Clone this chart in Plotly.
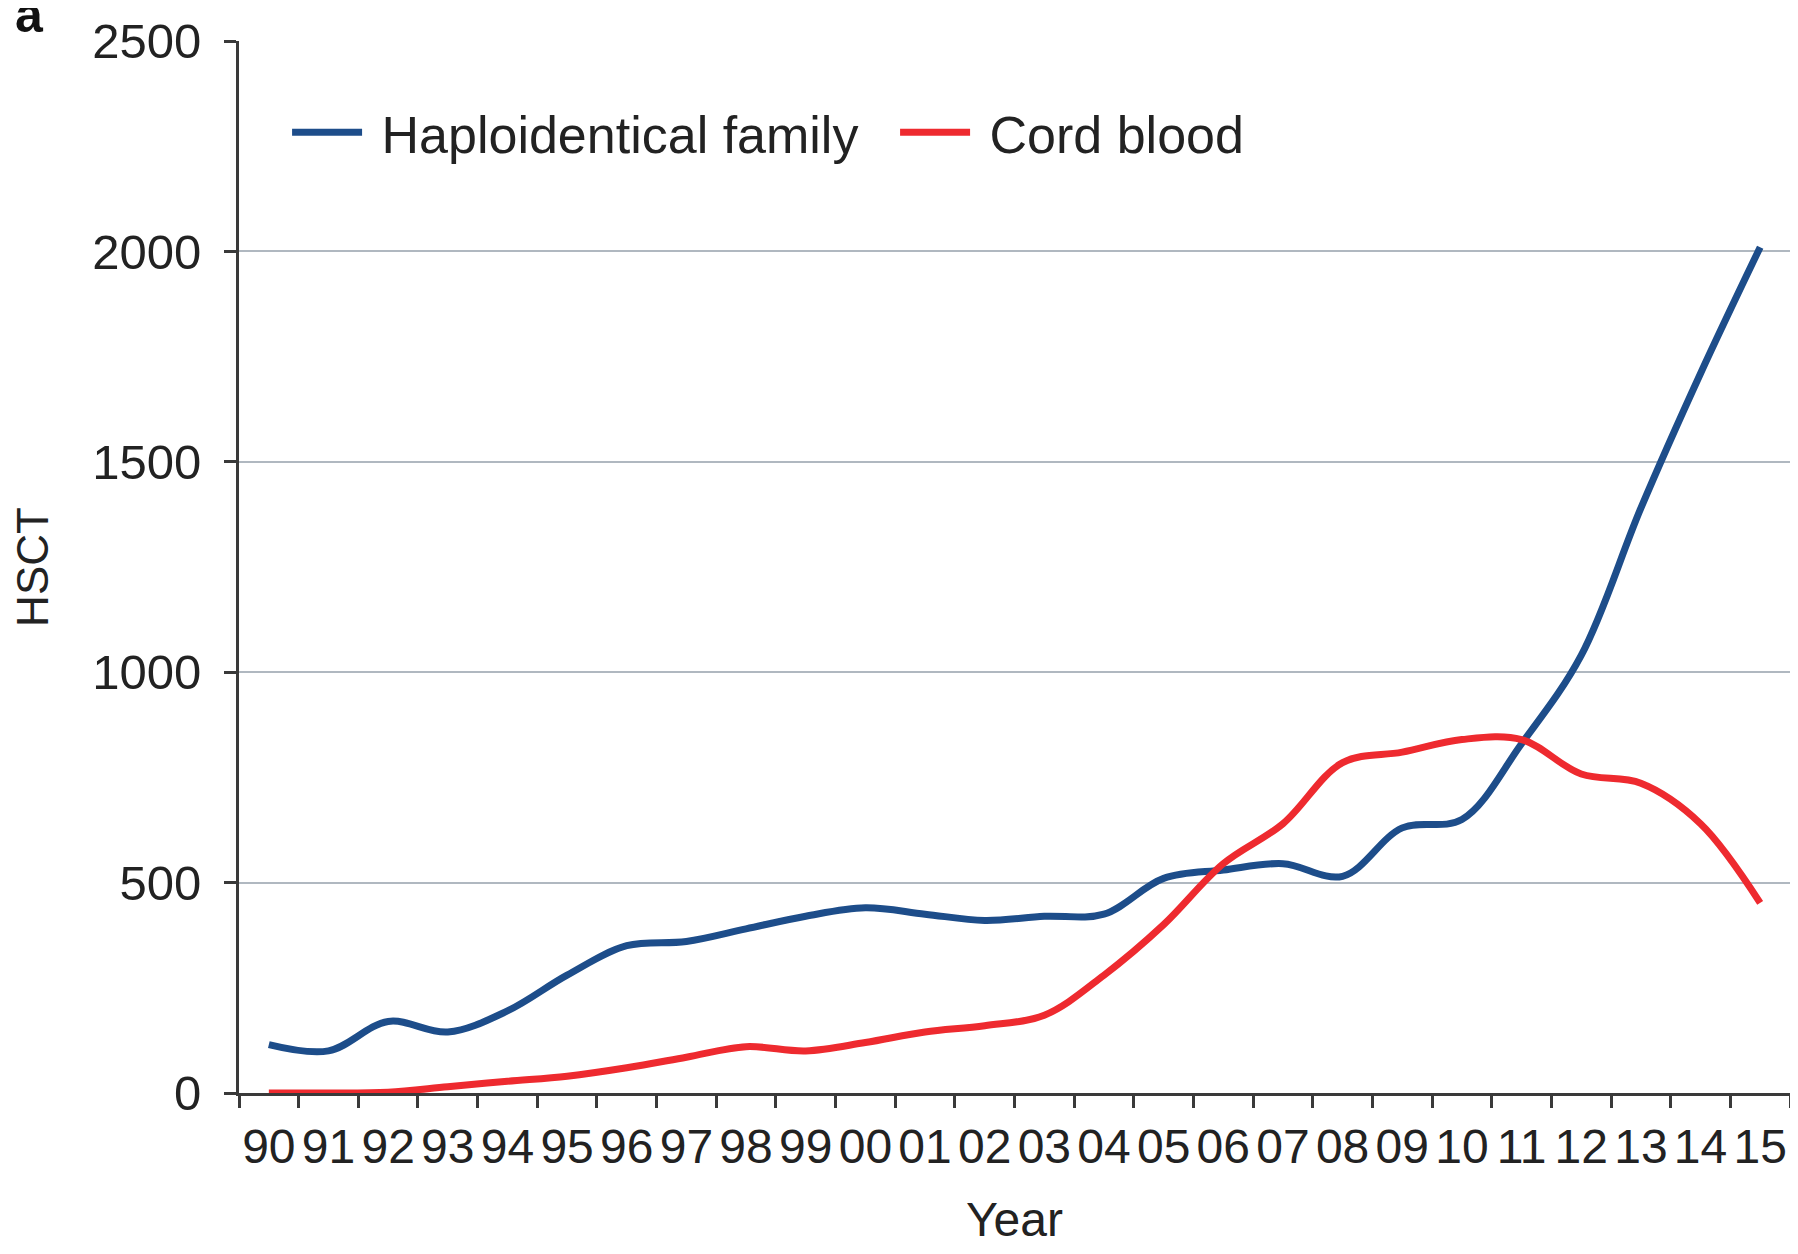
import plotly.graph_objects as go

years = ["90", "91", "92", "93", "94", "95", "96", "97", "98", "99", "00", "01", "02",
         "03", "04", "05", "06", "07", "08", "09", "10", "11", "12", "13", "14", "15"]
haplo = [115, 100, 170, 145, 195, 280, 350, 360, 390, 420, 440, 425, 410,
         420, 425, 510, 530, 545, 515, 630, 650, 830, 1040, 1390, 1710, 2010]
cord = [0, 0, 2, 15, 28, 40, 60, 85, 110, 100, 120, 145, 160,
        185, 280, 400, 545, 640, 785, 810, 840, 840, 758, 736, 640, 452]
y_ticks = [0, 500, 1000, 1500, 2000, 2500]

BLUE = "#1d4d8a"
RED = "#ee2a2f"
AXIS = "#3a3a3a"
TEXT = "#222222"
REG = "Liberation Sans, Arial, Helvetica, sans-serif"

fig = go.Figure()
fig.add_trace(go.Scatter(x=years, y=haplo, mode="lines", name="\u00a0Haploidentical family",
                         line=dict(color=BLUE, width=7, shape="spline", smoothing=1)))
fig.add_trace(go.Scatter(x=years, y=cord, mode="lines", name="\u00a0Cord blood",
                         line=dict(color=RED, width=7, shape="spline", smoothing=1)))

fig.update_layout(
    width=1782, height=1238,
    margin=dict(l=231, r=0, t=33, b=153),
    paper_bgcolor="white", plot_bgcolor="white",
    showlegend=True,
    legend=dict(orientation="h", x=0.031, y=0.913, xanchor="left", yanchor="middle",
                font=dict(family=REG, size=52, color=TEXT),
                bgcolor="rgba(0,0,0,0)", itemwidth=70, entrywidth=523),
    font=dict(family=REG, color=TEXT),
)

fig.update_xaxes(
    type="category", categoryorder="array", categoryarray=years,
    range=[-0.5, len(years) - 0.5],
    tickmode="array", tickvals=years, ticktext=years, tickangle=0,
    tickson="boundaries", ticks="outside", ticklen=12, tickwidth=3, tickcolor=AXIS,
    showline=True, linecolor=AXIS, linewidth=3, showgrid=False, zeroline=False,
    tickfont=dict(family=REG, size=48, color=TEXT),
    ticklabelstandoff=9, automargin=False,
    title=dict(text="Year", font=dict(family=REG, size=48, color=TEXT), standoff=42),
)
fig.update_yaxes(
    range=[0, 2500], tickmode="array", tickvals=y_ticks,
    ticks="outside", ticklen=12, tickwidth=3, tickcolor=AXIS,
    showline=True, linecolor=AXIS, linewidth=3,
    showgrid=True, gridcolor="#b0b8c0", gridwidth=2, zeroline=False,
    tickfont=dict(family=REG, size=49, color=TEXT),
    ticklabelstandoff=13, automargin=False,
    title=dict(text="HSCT", font=dict(family=REG, size=44, color=TEXT), standoff=34),
)

fig.add_annotation(text="<b>a</b>", xref="paper", yref="paper", x=-0.146, y=1.0,
                   xanchor="left", yanchor="bottom", yshift=-4, showarrow=False,
                   font=dict(family=REG, size=50, color="#111111"))

fig.write_html("out.html")
